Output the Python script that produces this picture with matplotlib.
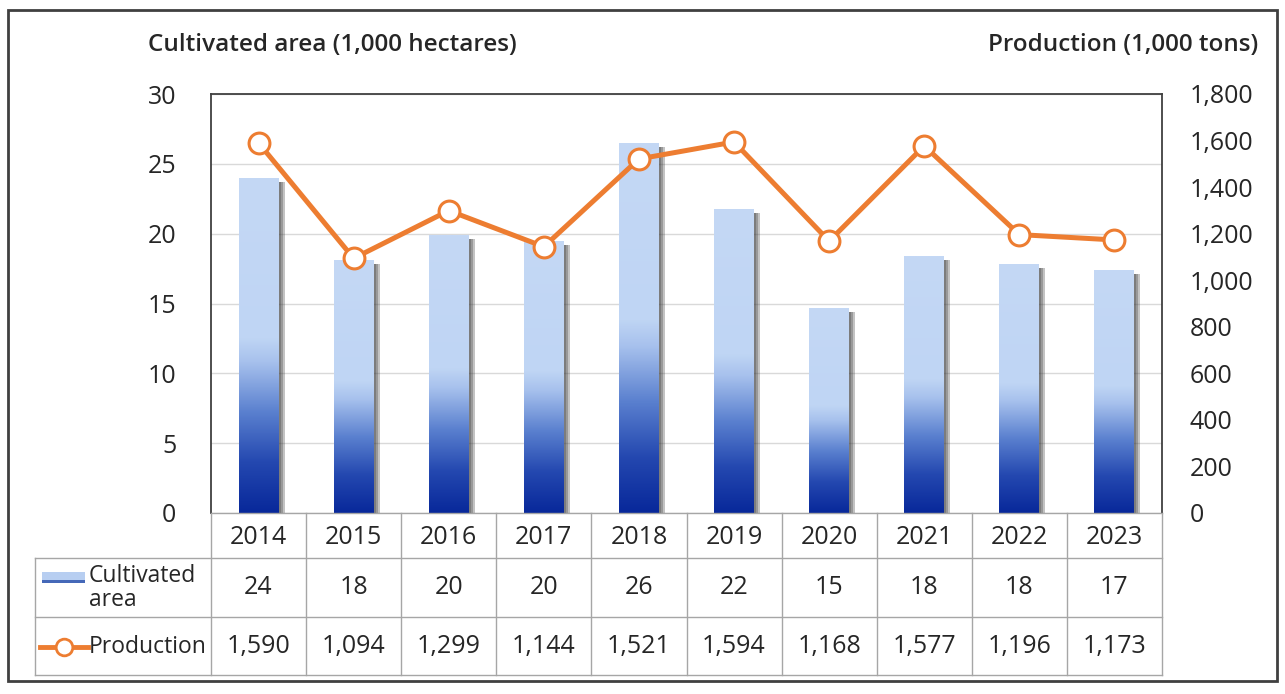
import numpy as np
import matplotlib
matplotlib.use("Agg")
import matplotlib.pyplot as plt
import matplotlib.transforms as mtransforms
from matplotlib.colors import LinearSegmentedColormap
from matplotlib.patches import Rectangle
from matplotlib.lines import Line2D

# data
years = ["2014", "2015", "2016", "2017", "2018", "2019", "2020", "2021", "2022", "2023"]
area = [24.0, 18.1, 19.9, 19.5, 26.5, 21.8, 14.7, 18.4, 17.8, 17.4]
area_labels = ["24", "18", "20", "20", "26", "22", "15", "18", "18", "17"]
production = [1590, 1094, 1299, 1144, 1521, 1594, 1168, 1577, 1196, 1173]

plt.rcParams["font.family"] = ["Open Sans", "DejaVu Sans"]
txt = "#262626"
orange = "#ed7d31"
grid_c = "#a6a6a6"

W, H = 1285, 694
fig = plt.figure(figsize=(W / 100, H / 100), dpi=100)
fig.patch.set_facecolor("white")

# plot box in pixels
L, R, T, B = 211, 1162, 94, 513
ax = fig.add_axes([L / W, 1 - B / H, (R - L) / W, (B - T) / H])

x = np.arange(len(years))
bw = 0.42

# gradient for the bars (bottom dark -> top light)
cmap = LinearSegmentedColormap.from_list(
    "bar", [(0.0, "#08289a"), (0.15, "#2448b0"), (0.3, "#5a80cf"),
            (0.45, "#a7c1ed"), (0.52, "#bfd5f4"), (1.0, "#c4d8f5")])
grad = np.linspace(0, 1, 256).reshape(-1, 1)

# soft shadow to the right of each bar
for off in [6, 4, 2]:
    tr = ax.transData + mtransforms.ScaledTranslation(off / 100, -4 / 100, fig.dpi_scale_trans)
    ax.bar(x, area, width=bw, color="#3a3a3a", alpha=0.3, transform=tr, zorder=1.5)

bars = ax.bar(x, area, width=bw, color="none", zorder=2)
for b in bars:
    x0 = b.get_x()
    im = ax.imshow(grad, extent=[x0, x0 + b.get_width(), 0, b.get_height()],
                   origin="lower", aspect="auto", cmap=cmap, zorder=2)
    im.set_clip_path(b)

ax.set_xlim(-0.5, len(years) - 0.5)
ax.set_ylim(0, 30)
ax.set_yticks(range(0, 31, 5))
ax.set_xticks([])
ax.tick_params(axis="y", length=0, pad=25, labelsize=18, labelcolor=txt)
ax.yaxis.grid(True, color="#d9d9d9", lw=1)
ax.set_axisbelow(True)
for s in ["top", "left", "right"]:
    ax.spines[s].set_color("#404040")
    ax.spines[s].set_linewidth(1.3)
ax.spines["bottom"].set_color(grid_c)
ax.spines["bottom"].set_linewidth(1)

ax2 = ax.twinx()
ax2.plot(x, production, color=orange, lw=3.6, marker="o", ms=15,
         mfc="white", mec=orange, mew=2.2, zorder=3)
ax2.set_ylim(0, 1800)
ax2.set_yticks(range(0, 1801, 200))
ax2.set_yticklabels([f"{v:,}" for v in range(0, 1801, 200)])
ax2.tick_params(axis="y", length=0, pad=20, labelsize=18, labelcolor=txt)
for s in ax2.spines.values():
    s.set_visible(False)

# axis titles
fig.text(148 / W, 1 - 45 / H, "Cultivated area (1,000 hectares)", ha="left", va="center",
         fontsize=17.5, fontweight="semibold", color=txt)
fig.text(1258 / W, 1 - 45 / H, "Production (1,000 tons)", ha="right", va="center",
         fontsize=17.5, fontweight="semibold", color=txt)

# data table under the plot
def fy(py):
    return (B - py) / (B - T)

def fx(px):
    return (px - L) / (R - L)

bt = mtransforms.blended_transform_factory(ax.transData, ax.transAxes)
rows_y = [537, 588, 647]
for i in range(len(years)):
    ax.text(x[i], fy(rows_y[0]), years[i], transform=bt, ha="center", va="center",
            fontsize=18, color=txt, clip_on=False)
    ax.text(x[i], fy(rows_y[1]), area_labels[i], transform=bt, ha="center", va="center",
            fontsize=18, color=txt, clip_on=False)
    ax.text(x[i], fy(rows_y[2]), f"{production[i]:,}", transform=bt, ha="center", va="center",
            fontsize=18, color=txt, clip_on=False)

for i in range(len(years) + 1):
    ax.plot([i - 0.5, i - 0.5], [fy(B), fy(675)], transform=bt, color=grid_c, lw=1, clip_on=False)
for py in [558, 617, 675]:
    ax.plot([fx(35), 1], [fy(py), fy(py)], transform=ax.transAxes, color=grid_c, lw=1, clip_on=False)
ax.plot([fx(35), fx(35)], [fy(558), fy(675)], transform=ax.transAxes, color=grid_c, lw=1, clip_on=False)

# row labels with legend keys
fig.text(89 / W, 1 - 588 / H, "Cultivated\narea", ha="left", va="center", fontsize=16.5,
         color=txt, linespacing=0.95)
fig.text(89 / W, 1 - 647 / H, "Production", ha="left", va="center", fontsize=16.5, color=txt)
fig.add_artist(Rectangle((42 / W, 1 - 580 / H), 43 / W, 8 / H, transform=fig.transFigure,
                         facecolor="#b7cef1", edgecolor="none"))
fig.add_artist(Rectangle((42 / W, 1 - 583 / H), 43 / W, 3 / H, transform=fig.transFigure,
                         facecolor="#4568b8", edgecolor="none"))
fig.add_artist(Line2D([40 / W, 88 / W], [1 - 647 / H, 1 - 647 / H], transform=fig.transFigure,
                      color=orange, lw=3.5))
fig.add_artist(Line2D([64 / W], [1 - 647 / H], transform=fig.transFigure, marker="o", ms=12,
                      mfc="white", mec=orange, mew=2))

# outer frame
fig.add_artist(Rectangle((8 / W, 1 - 681 / H), 1269 / W, 671 / H, transform=fig.transFigure,
                         fill=False, edgecolor="#404040", lw=2))

fig.savefig("out.png", dpi=100)
